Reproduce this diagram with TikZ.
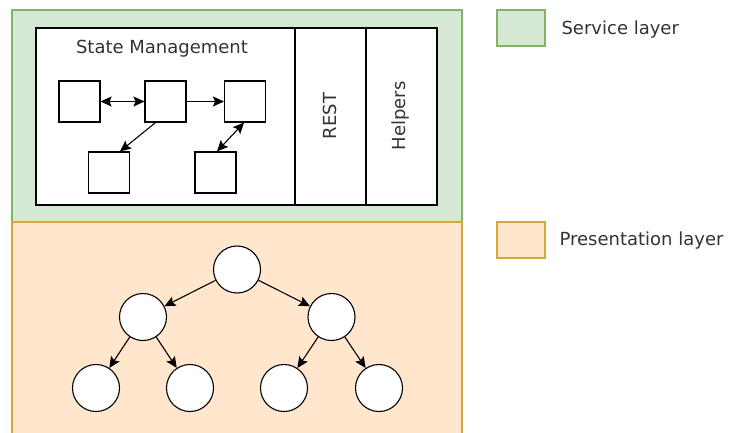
\documentclass[tikz,border=0pt]{standalone}
\usepackage{fontspec}
\setmainfont{DejaVu Sans}
\usetikzlibrary{arrows.meta}
\definecolor{svcfill}{HTML}{D5E8D4}
\definecolor{svcline}{HTML}{82B366}
\definecolor{prsfill}{HTML}{FFE6CC}
\definecolor{prsline}{HTML}{D6A73A}
\definecolor{txt}{HTML}{333333}
\tikzset{
  box/.style={draw, fill=white, minimum size=41pt, inner sep=0pt},
  ball/.style={draw, circle, fill=white, minimum size=47pt, inner sep=0pt},
  lbl/.style={text=txt, font=\fontsize{18}{20}\selectfont, inner sep=0pt},
  key/.style={minimum width=48pt, minimum height=36pt, inner sep=0pt},
  tip/.style={-{Stealth[length=11pt,width=10pt,inset=2pt]}},
  tips/.style={{Stealth[length=11pt,width=10pt,inset=2pt]}-{Stealth[length=11pt,width=10pt,inset=2pt]}},
}
\begin{document}
\begin{tikzpicture}[x=1pt,y=-1pt,line width=1.1pt]
  \clip (0,0) rectangle (733,432);

  % layers
  \draw[svcline, fill=svcfill] (12,10) rectangle (462,222);
  \draw[prsline, fill=prsfill] (12,222) rectangle (462,440);

  % service parts
  \draw[fill=white] (36,28) rectangle (437,205);
  \draw (295,28) -- (295,205);
  \draw (366,28) -- (366,205);
  \node[lbl] (statemgmt) at (162,49) {State Management};
  \node[lbl, rotate=90] (rest) at (330,116) {REST};
  \node[lbl, rotate=90] (helpers) at (401,116) {Helpers};

  \node[box] (s1) at (79.5,101.5) {};
  \node[box] (s2) at (165.5,101.5) {};
  \node[box] (s3) at (245,101.5) {};
  \node[box] (s4) at (109,172.5) {};
  \node[box] (s5) at (215.5,172.5) {};
  \draw[tips] (s1) -- (s2);
  \draw[tip] (s2) -- (s3);
  \draw[tip] ([xshift=-10pt]s2.south) -- ([xshift=11pt]s4.north);
  \draw[tips] ([xshift=-1pt]s3.south) -- ([xshift=1.5pt]s5.north);

  % presentation tree
  \node[ball] (root) at (237,269.5) {};
  \node[ball] (left) at (143,317) {};
  \node[ball] (right) at (331.5,317) {};
  \node[ball] (ll) at (96,388) {};
  \node[ball] (lr) at (190,388) {};
  \node[ball] (rl) at (284,388) {};
  \node[ball] (rr) at (379,388) {};
  \draw[tip] (root) -- (left);
  \draw[tip] (root) -- (right);
  \draw[tip] (left) -- (ll);
  \draw[tip] (left) -- (lr);
  \draw[tip] (right) -- (rl);
  \draw[tip] (right) -- (rr);

  % legend
  \node[key, draw=svcline, fill=svcfill] (svckey) at (521,28) {};
  \node[lbl, anchor=west] (svctext) at (561,30) {Service layer};
  \node[key, draw=prsline, fill=prsfill] (prskey) at (521,240) {};
  \node[lbl, anchor=west] (prstext) at (559,241) {Presentation layer};
\end{tikzpicture}
\end{document}
